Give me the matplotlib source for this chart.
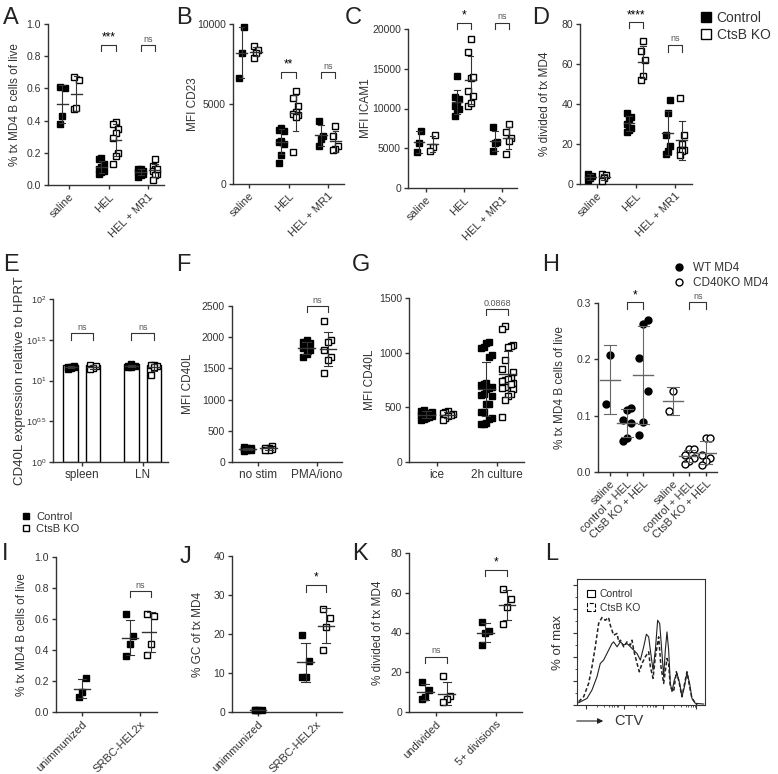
import matplotlib
matplotlib.use('Agg')
import matplotlib.pyplot as plt
import numpy as np
from matplotlib.lines import Line2D
from matplotlib.patches import Patch

plt.rcParams['font.family'] = ['Liberation Sans', 'DejaVu Sans']
plt.rcParams['mathtext.fontset'] = 'custom'
plt.rcParams['mathtext.rm'] = 'Liberation Sans'
plt.rcParams['mathtext.it'] = 'Liberation Sans:italic'
plt.rcParams['font.size'] = 7
TXT = '#333333'
for k in ['text.color', 'axes.labelcolor', 'xtick.color', 'ytick.color', 'axes.edgecolor']:
    plt.rcParams[k] = TXT
YLAB = 8.5   # axis label size
XTK = 8      # x tick label size
YTK = 7.5    # y tick label size

# ---------------- data ----------------
groups_abcd = ['saline', 'HEL', 'HEL + MR1']

a_ctrl = [[0.60, 0.61, 0.43, 0.38],
          [0.17, 0.16, 0.13, 0.11, 0.10, 0.09, 0.08, 0.07],
          [0.10, 0.10, 0.09, 0.08, 0.07, 0.06, 0.05, 0.09]]
a_ko = [[0.65, 0.67, 0.47, 0.48],
        [0.39, 0.38, 0.35, 0.32, 0.29, 0.20, 0.18, 0.13],
        [0.16, 0.12, 0.10, 0.09, 0.07, 0.06, 0.03, 0.10]]

b_ctrl = [[9800, 8200, 6600],
          [3500, 3400, 3300, 2700, 2600, 2500, 1800, 1300],
          [3950, 3000, 2800, 2400]]
b_ko = [[8600, 8400, 8200, 7900],
        [5800, 5400, 4900, 4500, 4400, 4300, 4200, 2000],
        [3600, 3000, 2400, 2200, 2100]]

c_ctrl = [[7200, 5600, 4500],
          [14100, 11500, 11200, 10300, 10000, 9900, 9000, 10500],
          [7700, 5800, 5600, 4600]]
c_ko = [[6700, 5200, 4700],
        [18700, 17100, 13800, 13900, 12200, 11600, 10300, 10700],
        [8000, 7000, 6300, 5900, 4300]]

d_ctrl = [[5, 4, 2, 3],
          [35.5, 33.3, 32.5, 30, 28, 26.8, 25.8],
          [42, 35.5, 24.7, 19.2, 16.7, 15.2]]
d_ko = [[5, 4.5, 3, 1.3],
        [71.3, 66.3, 61.8, 53.8, 51.8],
        [43, 24.7, 20.2, 17.2, 16.8, 16.3, 14.5]]

e_groups = ['spleen', 'LN']
e_ctrl = [[15.0, 14.8, 14.5, 14.2, 14.0, 14.6], [15.8, 15.2, 14.8, 14.5, 15.0]]
e_ko = [[15.5, 15.0, 14.2, 13.8], [15.5, 15.5, 15.0, 14.8, 11.8]]

f_groups = ['no stim', 'PMA/iono']
f_ctrl = [[230, 210, 200, 190, 220, 240, 180], [1960, 1925, 1900, 1855, 1820, 1790, 1730, 1675]]
f_ko = [[250, 230, 220, 210, 200, 190], [2260, 1950, 1925, 1790, 1685, 1640, 1420]]

g_groups = ['ice', '2h culture']
g_ctrl = [[480, 470, 460, 450, 440, 430, 420, 410, 400, 390, 380, 440],
          [1100, 1090, 1050, 1040, 980, 960, 720, 710, 700, 690, 680, 670,
           610, 600, 535, 530, 460, 455, 400, 395, 360, 350, 350, 620]]
g_ko = [[470, 460, 450, 440, 430, 420, 400, 380],
        [1240, 1220, 1070, 1065, 1050, 930, 855, 825, 770, 750, 740, 720, 700,
         690, 680, 670, 625, 600, 565, 415, 760, 710]]

h_labels = ['saline', 'control + HEL', 'CtsB KO + HEL'] * 2
h_wt = [[0.207, 0.121],
        [0.114, 0.110, 0.093, 0.087, 0.060, 0.055],
        [0.270, 0.262, 0.203, 0.143, 0.088, 0.065]]
h_cd40ko = [[0.143, 0.109],
            [0.040, 0.040, 0.030, 0.025, 0.020, 0.015],
            [0.060, 0.060, 0.030, 0.025, 0.020, 0.012]]

ij_groups = ['unimmunized', 'SRBC-HEL2x']
i_ctrl = [[0.22, 0.13, 0.10], [0.63, 0.49, 0.44, 0.36]]
i_ko = [[0.63, 0.62, 0.44, 0.37]]
j_ctrl = [[0.5, 0.6, 0.4, 0.5], [19.7, 13.2, 9.1, 8.9]]
j_ko = [[26.5, 24.2, 21.9, 15.9]]

k_groups = ['undivided', '5+ divisions']
k_ctrl = [[15.0, 11.2, 7.3, 6.5], [45.1, 40.9, 39.6, 33.7]]
k_ko = [[17.9, 7.8, 6.7, 4.8], [61.8, 57.1, 52.9, 44.1]]

# CTV histogram (% of max vs. CTV channel)
l_ctrl_x = [1.3, 7.8, 11.7, 15.6, 18.2, 20.8, 22.1, 24.7, 27.3, 28.6, 31.3, 33.9, 36.5,
            39.1, 41.7, 44.3, 46.9, 49.5, 52.1, 54.2, 56.0, 57.3, 59.4, 61.2, 63.0,
            64.6, 66.4, 67.7, 69.0, 70.3, 71.6, 72.9, 74.2, 76.0, 78.1, 80.2, 82.0,
            83.9, 85.9, 88.0, 89.8, 92.4, 99.0]
l_ctrl_y = [1.9, 5.5, 12.5, 23.5, 34.6, 37.4, 40.2, 45.7, 51.2, 52.6, 48.5, 52.6, 49.9,
            51.2, 48.5, 45.7, 42.9, 37.4, 48.5, 59.0, 56.8, 45.7, 29.1, 45.7, 70.6,
            67.9, 42.9, 23.5, 45.7, 60.9, 45.7, 18.0, 11.1, 20.8, 26.3, 18.0, 6.9,
            15.2, 26.9, 18.0, 5.5, 1.4, 0.8]
l_ko_x = [1.3, 5.2, 9.1, 11.7, 14.3, 16.9, 19.5, 22.1, 24.7, 26.0, 28.6, 31.3, 32.6,
          33.9, 36.5, 39.1, 41.7, 43.0, 44.3, 46.9, 48.7, 50.8, 53.4, 56.0, 57.3,
          59.4, 61.2, 63.8, 65.6, 67.7, 70.3, 71.6, 72.9, 75.5, 77.6, 79.4, 82.0,
          84.1, 85.9, 88.0, 89.8, 93.8]
l_ko_y = [2.8, 6.9, 18.0, 31.9, 48.5, 67.9, 72.9, 70.6, 72.9, 66.5, 58.2, 59.6, 52.6,
          54.0, 48.5, 52.6, 49.9, 54.0, 45.7, 34.6, 27.7, 34.6, 40.2, 44.3, 31.9,
          22.2, 40.2, 56.8, 31.9, 18.0, 38.8, 34.6, 15.2, 11.1, 27.7, 20.8, 6.9,
          18.0, 27.7, 15.2, 5.5, 0.0]

# ---------------- helpers ----------------
W, H = 778, 774
fig = plt.figure(figsize=(W / 100, H / 100), dpi=100)


def add_ax(l, r, t, b, xlim, ylim):
    ax = fig.add_axes([l / W, 1 - b / H, (r - l) / W, (b - t) / H])
    ax.set_xlim(xlim)
    ax.set_ylim(ylim)
    for s in ['top', 'right']:
        ax.spines[s].set_visible(False)
    for s in ['left', 'bottom']:
        ax.spines[s].set_linewidth(1.0)
    ax.tick_params(length=3, width=1.0, pad=2)
    ax.tick_params(axis='y', labelsize=YTK)
    ax.tick_params(axis='x', labelsize=XTK)
    return ax


def ylab(ax, text, xpx, size=YLAB):
    # xpx: right edge of the rotated label, in figure pixels
    ax.set_ylabel(text, fontsize=size)
    pos = ax.get_position()
    ax.yaxis.set_label_coords((xpx / W - pos.x0) / pos.width, 0.5)


def spread(vals, w, ncol=3):
    order = np.argsort(vals)
    offs = np.zeros(len(vals))
    for k, i in enumerate(order):
        offs[i] = ((k % ncol) - (ncol - 1) / 2) * w
    return offs


def dots(ax, x, vals, filled, marker='s', ms=5, w=0.06, ncol=3,
         mw=0.14, cw=0.07, ecol=TXT):
    vals = np.asarray(vals, float)
    xs = x + spread(vals, w, ncol)
    ax.plot(xs, vals, ls='none', marker=marker, ms=ms,
            mfc='black' if filled else 'white', mec='black', mew=1.0,
            zorder=3, clip_on=False)
    m = vals.mean()
    sd = vals.std(ddof=1) if len(vals) > 1 else 0
    ax.plot([x - mw, x + mw], [m, m], color=ecol, lw=1.0, zorder=4)
    ax.plot([x, x], [m - sd, m + sd], color=ecol, lw=0.8, zorder=4)
    for yy in (m - sd, m + sd):
        ax.plot([x - cw, x + cw], [yy, yy], color=ecol, lw=0.8, zorder=4)
    return m


def bracket(ax, x1, x2, ytop, yleg, text, size=8.5, color='black'):
    ax.plot([x1, x1, x2, x2], [yleg, ytop, ytop, yleg], color=TXT, lw=0.8,
            clip_on=False)
    ax.annotate(text, xy=((x1 + x2) / 2, ytop), xytext=(0, 1),
                textcoords='offset points', ha='center', va='bottom',
                fontsize=size, color=color, annotation_clip=False)


def ns(ax, x1, x2, ytop, yleg, text='ns'):
    bracket(ax, x1, x2, ytop, yleg, text, size=6.5, color='#555555')


def rot_labels(ax, labels, ticks):
    ax.set_xticks(ticks)
    ax.set_xticklabels(labels, rotation=45, ha='right', rotation_mode='anchor')


def two_group(ax, ctrl, ko, off=0.18, **kw):
    for i, v in enumerate(ctrl):
        dots(ax, i - off, v, True, **kw)
    for i, v in enumerate(ko):
        dots(ax, i + off, v, False, **kw)


def letter(x, y, s):
    fig.text(x / W, 1 - y / H, s, fontsize=17, ha='left', va='top', color='#222222')


# ---------------- A ----------------
ax = add_ax(48, 164, 24, 185, (-0.54, 2.41), (0, 1.0))
two_group(ax, a_ctrl, a_ko)
rot_labels(ax, groups_abcd, [0, 1, 2])
ax.set_yticks(np.arange(0, 1.01, 0.2))
ax.set_yticklabels(['%.1f' % v for v in np.arange(0, 1.01, 0.2)])
ylab(ax, '% tx MD4 B cells of live', 21)
bracket(ax, 0.82, 1.18, 0.87, 0.835, '***')
ns(ax, 1.82, 2.18, 0.87, 0.835)

# ---------------- B ----------------
ax = add_ax(233, 344, 24, 184, (-0.4, 2.4), (0, 10000))
two_group(ax, b_ctrl, b_ko)
rot_labels(ax, groups_abcd, [0, 1, 2])
ax.set_yticks([0, 5000, 10000])
ylab(ax, 'MFI CD23', 199)
bracket(ax, 0.82, 1.18, 7000, 6600, '**')
ns(ax, 1.82, 2.18, 7000, 6600)

# ---------------- C ----------------
ax = add_ax(408, 517, 29, 188, (-0.47, 2.4), (0, 20000))
two_group(ax, c_ctrl, c_ko)
rot_labels(ax, groups_abcd, [0, 1, 2])
ax.set_yticks(np.arange(0, 20001, 5000))
ylab(ax, 'MFI ICAM1', 372)
bracket(ax, 0.82, 1.18, 20800, 20000, '*')
ns(ax, 1.82, 2.18, 20800, 20000)

# ---------------- D ----------------
ax = add_ax(580, 692, 24, 184, (-0.44, 2.44), (0, 80))
two_group(ax, d_ctrl, d_ko)
rot_labels(ax, groups_abcd, [0, 1, 2])
ax.set_yticks(np.arange(0, 81, 20))
ylab(ax, '% divided of tx MD4', 551)
bracket(ax, 0.82, 1.18, 80.8, 78, '****')
ns(ax, 1.82, 2.18, 69.7, 66)
fig.legend(handles=[Line2D([], [], ls='none', marker='s', ms=7, mfc='black', mec='black'),
                    Line2D([], [], ls='none', marker='s', ms=7, mfc='white', mec='black')],
           labels=['Control', 'CtsB KO'], loc='upper left',
           bbox_to_anchor=(693 / W, 1 - 4 / H), frameon=False, fontsize=10,
           handlelength=0.8, handletextpad=0.4, labelspacing=0.2, borderpad=0)

# ---------------- E ----------------
ax = add_ax(53, 168, 299, 462, (-0.48, 1.41), (1, 100))
ax.set_yscale('log')
ax.set_ylim(1, 100)
for i, (vc, vk) in enumerate(zip(e_ctrl, e_ko)):
    for xx, v, filled in ((i - 0.19, vc, True), (i + 0.18, vk, False)):
        ax.bar(xx, np.mean(v), width=0.24, bottom=1, facecolor='white',
               edgecolor='black', lw=1.0, zorder=1)
        dots(ax, xx, v, filled, w=0.05, mw=0.1, cw=0.05)
ax.set_yticks([1, 10 ** 0.5, 10, 10 ** 1.5, 100])
ax.set_yticklabels(['$10^{0}$', '$10^{0.5}$', '$10^{1}$', '$10^{1.5}$', '$10^{2}$'])
ax.yaxis.set_minor_locator(matplotlib.ticker.NullLocator())
ax.tick_params(axis='y', labelsize=6.5, pad=1.5)
ax.set_xticks([0, 1])
ax.set_xticklabels(e_groups, fontsize=8.5)
ylab(ax, 'CD40L expression relative to HPRT', 26, size=9.5)
ns(ax, -0.19, 0.18, 10 ** 1.58, 10 ** 1.50)
ns(ax, 0.81, 1.18, 10 ** 1.58, 10 ** 1.50)

# ---------------- F ----------------
ax = add_ax(232, 342, 306, 462, (-0.44, 1.42), (0, 2500))
two_group(ax, f_ctrl, f_ko)
ax.set_xticks([0, 1])
ax.set_xticklabels(f_groups, fontsize=8.5)
ax.set_yticks(np.arange(0, 2501, 500))
ylab(ax, 'MFI CD40L', 194)
ns(ax, 0.82, 1.18, 2500, 2400)

# ---------------- G ----------------
ax = add_ax(409, 524, 298, 462, (-0.47, 1.45), (0, 1500))
for i, v in enumerate(g_ctrl):
    dots(ax, i - 0.18, v, True, w=0.045, ncol=5)
for i, v in enumerate(g_ko):
    dots(ax, i + 0.18, v, False, w=0.045, ncol=5)
ax.set_xticks([0, 1])
ax.set_xticklabels(g_groups, fontsize=8.5)
ax.set_yticks([0, 500, 1000, 1500])
ylab(ax, 'MFI CD40L', 376)
ns(ax, 0.82, 1.18, 1400, 1340, '0.0868')

# ---------------- H ----------------
hx = [0, 1, 2, 3.75, 4.75, 5.75]
ax = add_ax(598, 717, 303, 472, (-0.72, 6.4), (0, 0.3))
for j, v in enumerate(h_wt):
    dots(ax, hx[j], v, True, marker='o', ms=5, w=0.25, mw=0.6, cw=0.35, ecol='#666666')
for j, v in enumerate(h_cd40ko):
    dots(ax, hx[j + 3], v, False, marker='o', ms=5, w=0.25, mw=0.6, cw=0.35, ecol='#666666')
rot_labels(ax, h_labels, hx)
ax.set_yticks([0, 0.1, 0.2, 0.3])
ax.set_yticklabels(['0.0', '0.1', '0.2', '0.3'])
ylab(ax, '% tx MD4 B cells of live', 566)
bracket(ax, 1, 2, 0.301, 0.289, '*')
ns(ax, 4.75, 5.75, 0.301, 0.289)
fig.legend(handles=[Line2D([], [], ls='none', marker='o', ms=5, mfc='black', mec='black'),
                    Line2D([], [], ls='none', marker='o', ms=5, mfc='white', mec='black')],
           labels=['WT MD4', 'CD40KO MD4'], loc='upper left',
           bbox_to_anchor=(668 / W, 1 - 256 / H), frameon=False, fontsize=8.5,
           handlelength=0.8, handletextpad=0.8, labelspacing=0.3, borderpad=0)

# ---------------- I ----------------
ax = add_ax(56, 157, 557, 712, (-0.45, 1.29), (0, 1.0))
for i, v in enumerate(i_ctrl):
    dots(ax, i - 0.18 if i else i, v, True)
dots(ax, 1 + 0.18, i_ko[0], False)
rot_labels(ax, ij_groups, [0, 1])
ax.set_yticks(np.arange(0, 1.01, 0.2))
ax.set_yticklabels(['%.1f' % v for v in np.arange(0, 1.01, 0.2)])
ylab(ax, '% tx MD4 B cells of live', 28)
ns(ax, 0.82, 1.18, 0.78, 0.74)
fig.legend(handles=[Line2D([], [], ls='none', marker='s', ms=5, mfc='black', mec='black'),
                    Line2D([], [], ls='none', marker='s', ms=5, mfc='white', mec='black')],
           labels=['Control', 'CtsB KO'], loc='upper left',
           bbox_to_anchor=(16 / W, 1 - 506 / H), frameon=False, fontsize=8,
           handlelength=0.8, handletextpad=0.5, labelspacing=0.2, borderpad=0)

# ---------------- J ----------------
ax = add_ax(232, 342, 556, 712, (-0.45, 1.45), (0, 40))
for i, v in enumerate(j_ctrl):
    dots(ax, i - 0.18 if i else i, v, True)
dots(ax, 1 + 0.18, j_ko[0], False)
rot_labels(ax, ij_groups, [0, 1])
ax.set_yticks(np.arange(0, 41, 10))
ylab(ax, '% GC of tx MD4', 204)
bracket(ax, 0.82, 1.18, 32.5, 30.8, '*')

# ---------------- K ----------------
ax = add_ax(409, 522, 553, 712, (-0.45, 1.43), (0, 80))
two_group(ax, k_ctrl, k_ko)
rot_labels(ax, k_groups, [0, 1])
ax.set_yticks(np.arange(0, 81, 20))
ylab(ax, '% divided of tx MD4', 384)
ns(ax, -0.18, 0.18, 27.9, 24.9)
bracket(ax, 0.82, 1.18, 71.3, 68.3, '*')

# ---------------- L ----------------
ax = fig.add_axes([577 / W, 1 - 705 / H, 128 / W, 126 / H])
ax.plot(l_ctrl_x, l_ctrl_y, color='#222222', lw=0.8, ls='-')
ax.plot(l_ko_x, l_ko_y, color='#222222', lw=1.1, ls=(0, (2.5, 1.5)))
ax.set_xlim(0, 100)
ax.set_ylim(0, 105)
for s in ax.spines.values():
    s.set_linewidth(0.8)
ax.set_yticks(np.arange(0, 101, 20))
ax.set_yticks(np.arange(0, 101, 10), minor=True)
ax.set_xticks([7, 37, 67, 93])
ax.set_xticks([16, 21, 25, 27, 29, 31, 32, 46, 51, 55, 57, 59, 61, 62, 76, 81, 85, 87, 89, 91, 92],
              minor=True)
ax.tick_params(which='major', length=3, width=0.8, labelleft=False, labelbottom=False)
ax.tick_params(which='minor', length=1.5, width=0.6)
ylab(ax, '% of max', 564, size=9.5)
ax.legend(handles=[Patch(facecolor='white', edgecolor='black', lw=0.8),
                   Patch(facecolor='white', edgecolor='black', lw=0.8, ls='--')],
          labels=['Control', 'CtsB KO'], loc='upper left', frameon=False,
          fontsize=7.5, handlelength=0.7, handleheight=0.7, handletextpad=0.5,
          labelspacing=0.3, borderaxespad=0.6)
fig.add_artist(matplotlib.patches.FancyArrowPatch(
    (574 / W, 1 - 721 / H), (606 / W, 1 - 721 / H), transform=fig.transFigure,
    arrowstyle='-|>', mutation_scale=8, color='#222222', lw=0.8))
fig.text(614 / W, 1 - 721 / H, 'CTV', fontsize=10.5, va='center', ha='left')

# ---------------- panel letters ----------------
for s, x, y in [('A', 3, 7), ('B', 176, 7), ('C', 345, 7), ('D', 532, 7),
                ('E', 3, 254), ('F', 176, 254), ('G', 352, 254), ('H', 542, 254),
                ('I', 2, 543), ('J', 180, 546), ('K', 352, 543), ('L', 545, 543)]:
    letter(x, y, s)

fig.savefig('out.png', dpi=100)
